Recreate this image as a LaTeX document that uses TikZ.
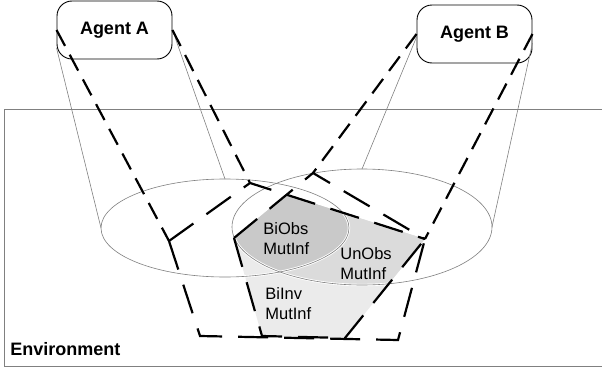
\documentclass[tikz,border=0pt]{standalone}
\usepackage{fontspec}
\setmainfont{Liberation Sans}
\usetikzlibrary{positioning}
\definecolor{obsdark}{gray}{0.79}
\definecolor{obsmid}{gray}{0.86}
\definecolor{invlight}{gray}{0.92}
\tikzset{every picture/.style={line width=0.75pt}}

\begin{document}
\begin{tikzpicture}[x=1pt,y=-1pt,
    agentbox/.style={draw,rounded corners=15pt,minimum width=115pt,minimum height=58pt,
      fill=white,line width=0.9pt,font=\fontsize{18}{20}\selectfont\bfseries},
    thinline/.style={draw=black!50,line width=0.6pt},
    conedash/.style={line width=2.2pt,dash pattern=on 18pt off 10pt},
    grounddash/.style={line width=2.2pt,dash pattern=on 30pt off 16pt},
    zonelabel/.style={align=left,inner sep=0pt,anchor=north west,font=\fontsize{16.5}{20}\selectfont}]
    \useasboundingbox (0,0) rectangle (602,372);
    % environment
    \draw[thinline] (602,109) -- (4,109) -- (4,366) -- (602,366);
    \node[anchor=base west,inner sep=0pt,font=\fontsize{18}{20}\selectfont\bfseries] (env) at (10,355) {Environment};
    %
    \node[agentbox] (agentA) at (114.5,30) {Agent A};
    \node[agentbox] (agentB) at (474.5,34) {Agent B};
    %
    \coordinate (eA) at (225,228);
    \coordinate (eB) at (362,227);
    \coordinate (obsAw) at (101,228);
    \coordinate (obsAn) at (225,179);
    \coordinate (obsBn) at (362,169);
    \coordinate (obsBe) at (492,227);
    %
    \coordinate (aL) at (169,241);
    \coordinate (aB) at (250,183);
    \coordinate (aR) at (425,239);
    \coordinate (aLL) at (200,336);
    \coordinate (aRR) at (398,340);
    \coordinate (bB) at (313,173);
    \coordinate (bL) at (234,238);
    \coordinate (bR) at (425,239);
    \coordinate (bLL) at (262,336);
    \coordinate (bRR) at (345,338);
    %
    \begin{scope}
        \clip (aL) -- (aB) -- (aR) -- (aRR) -- (aLL) -- cycle;
        \clip (bB) -- (bR) -- (bRR) -- (bLL) -- (bL) -- cycle;
        \fill[invlight] (0,0) rectangle (602,372);
        \fill[obsmid] (eB) ellipse (130pt and 58pt);
        \clip (eB) ellipse (130pt and 58pt);
        \fill[obsdark] (eA) ellipse (124pt and 49pt);
    \end{scope}
    %
    \draw[white,line width=2.4pt] (eA) ellipse (124pt and 49pt);
    \draw[white,line width=2.4pt] (eB) ellipse (130pt and 58pt);
    \draw[thinline] (eA) ellipse (124pt and 49pt);
    \draw[thinline] (eB) ellipse (130pt and 58pt);
    %
    \draw[thinline] ([yshift=-18pt]agentA.west) -- (obsAw);
    \draw[thinline] (agentA.east) -- (obsAn);
    \draw[thinline] ([yshift=-3pt]agentB.west) -- (obsBn);
    \draw[thinline] ([yshift=-9pt]agentB.east) -- (obsBe);
    %
    \draw[conedash] (agentA.west) -- (aL);
    \draw[conedash] (agentA.east) -- (aB);
    \draw[conedash] (agentB.west) -- (bB);
    \draw[conedash] (agentB.east) -- (bR);
    %
    \draw[grounddash] (aL) -- (aB) -- (aR);
    \draw[grounddash] (aL) -- (aLL) -- (aRR) -- (aR);
    \draw[grounddash] (bL) -- (bB) -- (bR);
    \draw[grounddash] (bL) -- (bLL) -- (bRR) -- (bR);
    %
    \node[zonelabel] (biobs) at (263,222) {BiObs\\MutInf};
    \node[zonelabel] (unobs) at (340,247) {UnObs\\MutInf};
    \node[zonelabel] (biinv) at (265,287) {BiInv\\MutInf};
\end{tikzpicture}
\end{document}
